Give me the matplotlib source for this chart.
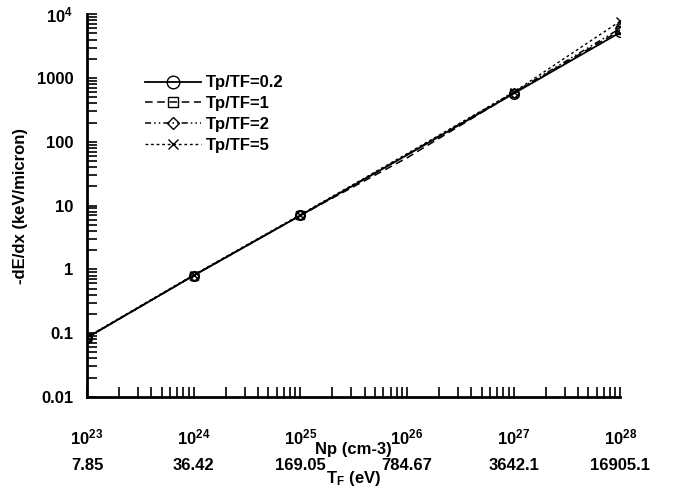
import numpy as np
import matplotlib.pyplot as plt
from matplotlib.ticker import FixedLocator, LogLocator, NullFormatter

plt.rcParams['font.family'] = ['Liberation Sans', 'DejaVu Sans']
plt.rcParams['mathtext.default'] = 'regular'
plt.rcParams['font.size'] = 12

# %% Datos
np_dens = [1e23, 1e24, 1e25, 1e26, 1e27, 1e28]
tf_labels = ['7.85', '36.42', '169.05', '784.67', '3642.1', '16905.1']
np_labels = ['$10^{23}$', '$10^{24}$', '$10^{25}$', '$10^{26}$', '$10^{27}$', '$10^{28}$']

de_02 = [0.085, 0.80, 7.0, 62, 570, 5200]
de_1 = [0.085, 0.80, 7.0, 56, 580, 5600]
de_2 = [0.085, 0.80, 7.0, 63, 590, 6000]
de_5 = [0.087, 0.82, 7.2, 65, 600, 7800]

y_ticks = [0.01, 0.1, 1, 10, 100, 1000, 1e4]
y_labels = ['0.01', '0.1', '1', '10', '100', '1000', '$10^4$']

# %% Grafico
fig = plt.figure(figsize=(6.75, 4.9), dpi=100)
ax = fig.add_axes([0.129, 0.19, 0.79, 0.781])

marcas = [0, 1, 2, 4, 5]
ax.plot(np_dens, de_02, color='black', lw=1.3, ls='-', marker='o', ms=7,
        mfc='none', markevery=marcas, label='Tp/TF=0.2')
ax.plot(np_dens, de_1, color='black', lw=1.1, ls=(0, (5, 3)), marker='s', ms=6,
        mfc='none', markevery=marcas, label='Tp/TF=1')
ax.plot(np_dens, de_2, color='black', lw=1.1, ls=(0, (4, 2, 1, 2, 1, 2)), marker='D', ms=5,
        mfc='none', markevery=marcas, label='Tp/TF=2')
ax.plot(np_dens, de_5, color='black', lw=1.0, ls=(0, (2, 2)), marker='x', ms=6,
        markevery=marcas, label='Tp/TF=5')

ax.set_xscale('log')
ax.set_yscale('log')
ax.set_xlim(1e23, 1e28)
ax.set_ylim(0.01, 1e4)

ax.spines['top'].set_visible(False)
ax.spines['right'].set_visible(False)
ax.spines['left'].set_linewidth(2)
ax.spines['bottom'].set_linewidth(2)

ax.yaxis.set_major_locator(FixedLocator(y_ticks))
ax.set_yticklabels(y_labels, fontweight='bold')
ax.yaxis.set_minor_locator(LogLocator(base=10, subs=np.arange(2, 10)))
ax.yaxis.set_minor_formatter(NullFormatter())

ax.xaxis.set_major_locator(FixedLocator(np_dens))
ax.set_xticklabels(np_labels, fontweight='bold')
ax.xaxis.set_minor_locator(LogLocator(base=10, subs=np.arange(2, 10)))
ax.xaxis.set_minor_formatter(NullFormatter())

ax.tick_params(which='both', direction='in', width=1.2)
ax.tick_params(which='major', length=7, pad=10)
ax.tick_params(which='minor', length=7)
ax.tick_params(axis='x', which='major', pad=22)

ax.set_ylabel('-dE/dx (keV/micron)', fontweight='bold', labelpad=6)
ax.set_xlabel('Np (cm-3)', fontweight='bold', labelpad=-4)

# Segundo eje con la temperatura de Fermi
ax2 = ax.secondary_xaxis(-0.16)
ax2.xaxis.set_major_locator(FixedLocator(np_dens))
ax2.set_xticklabels(tf_labels, fontweight='bold')
ax2.xaxis.set_minor_locator(FixedLocator([]))
ax2.spines['bottom'].set_visible(False)
ax2.tick_params(length=0, pad=0)
ax2.set_xlabel('T$_F$ (eV)', fontweight='bold', labelpad=-3)

ax.legend(loc='upper left', bbox_to_anchor=(0.108, 0.84), frameon=False,
          handlelength=3.4, handletextpad=0.3, labelspacing=0.35,
          borderpad=0, borderaxespad=0, markerscale=1.3,
          prop={'weight': 'bold', 'size': 12})

plt.savefig('out.png', dpi=100)
